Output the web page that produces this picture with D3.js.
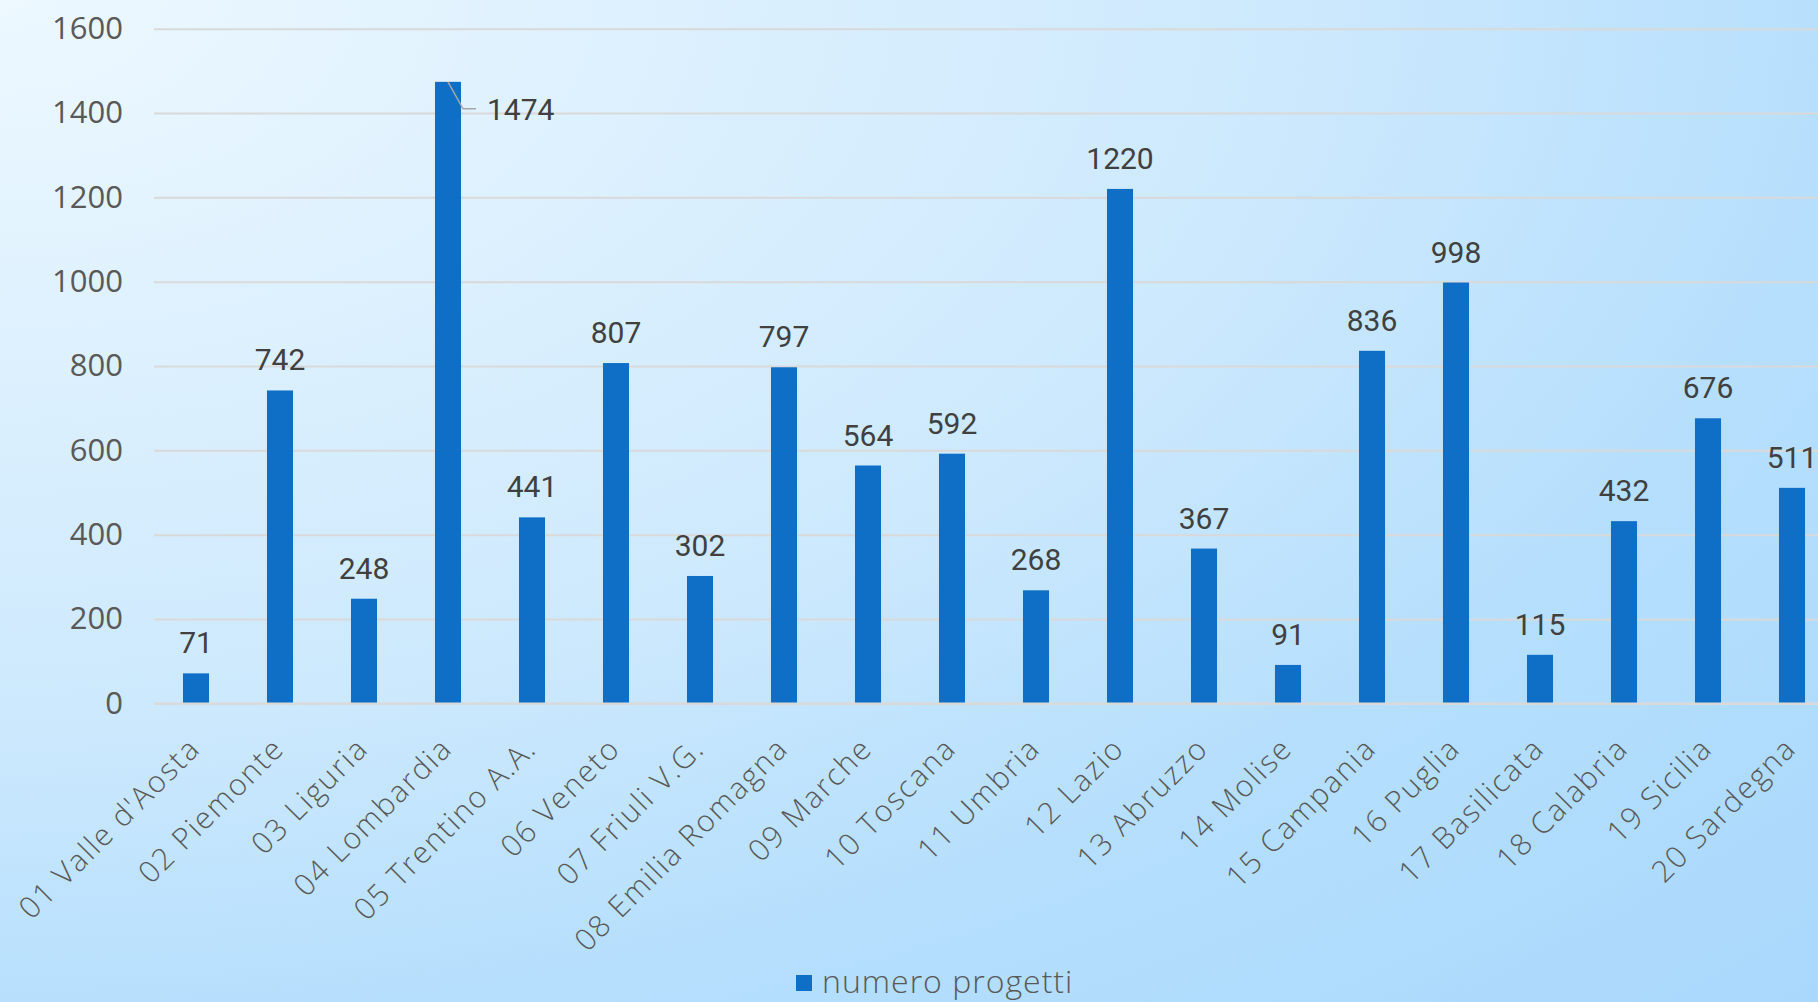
<!DOCTYPE html>
<html><head><meta charset="utf-8">
<script src="https://cdn.jsdelivr.net/npm/d3@7"></script>
<style>html,body{margin:0;padding:0;overflow:hidden;}svg{display:block;}</style>
</head><body>
<svg id="chart" width="1818" height="1002"></svg>
<script>
const categories = ["01 Valle d'Aosta","02 Piemonte","03 Liguria","04 Lombardia","05 Trentino A.A.","06 Veneto","07 Friuli V.G.","08 Emilia Romagna","09 Marche","10 Toscana","11 Umbria","12 Lazio","13 Abruzzo","14 Molise","15 Campania","16 Puglia","17 Basilicata","18 Calabria","19 Sicilia","20 Sardegna"];
const values = [71,742,248,1474,441,807,302,797,564,592,268,1220,367,91,836,998,115,432,676,511];
const yTicks = [0,200,400,600,800,1000,1200,1400,1600];
const seriesName = "numero progetti";

const W = 1818, H = 1002;
const svg = d3.select("#chart");
const defs = svg.append("defs");
const grad = defs.append("radialGradient").attr("id","bg")
  .attr("cx",0).attr("cy",0).attr("fx",0).attr("fy",0).attr("r",1.414);
[[0,"#edf8ff"],[0.5,"#cde9fd"],[0.72,"#b6dffd"],[1,"#a9d8fc"]].forEach(([o,c])=>
  grad.append("stop").attr("offset",o).attr("stop-color",c));
svg.append("rect").attr("width",W).attr("height",H).attr("fill","url(#bg)");

const left = 154, right = 1834, y0 = 703.3, yTop = 28.7;
const x = d3.scaleBand().domain(categories).range([left,right]).paddingInner(0.69).paddingOuter(0.345);
const y = d3.scaleLinear().domain([0,1600]).range([y0,yTop]);

// y axis with gridlines
const gy = svg.append("g").attr("transform",`translate(${left},0)`)
  .call(d3.axisLeft(y).tickValues(yTicks).tickSize(-(right-left)).tickPadding(31).tickFormat(d3.format("d")));
gy.select(".domain").remove();
gy.selectAll(".tick line").attr("stroke","#d9d9d9").attr("stroke-width",2);
gy.selectAll(".tick text").attr("fill","#595959").style("font-family","'Open Sans', sans-serif").style("font-size","31px");

// bars
svg.append("g").selectAll("rect").data(values).join("rect")
  .attr("x",(d,i)=>x(categories[i])).attr("width",x.bandwidth())
  .attr("y",d=>y(d)).attr("height",d=>y0-y(d)).attr("fill","#0f6fc6");

// x axis
const gx = svg.append("g").attr("transform",`translate(0,${y0})`)
  .call(d3.axisBottom(x).tickSize(0));
gx.select(".domain").attr("stroke","#d9d9d9").attr("stroke-width",2.5);
gx.selectAll(".tick text")
  .attr("x",0).attr("y",0).attr("dy",0)
  .attr("transform","translate(6,47) rotate(-45)")
  .attr("text-anchor","end")
  .attr("fill","#595959").style("font-family","'Open Sans', sans-serif").style("font-weight","300")
  .style("font-size","30px").style("letter-spacing","1.8px");

// data labels
const maxV = d3.max(values);
const lab = svg.append("g").style("font-family","Roboto, sans-serif").style("font-size","30px").attr("fill","#404040");
values.forEach((v,i)=>{
  const cx = x(categories[i]) + x.bandwidth()/2;
  if (v === maxV) {
    const ly = y(v) + 27;
    lab.append("path").attr("d",`M${cx},${y(v)} L${cx+15},${ly} L${cx+28},${ly}`)
      .attr("fill","none").attr("stroke","#a6a6a6").attr("stroke-width",1.5);
    lab.append("text").attr("x",cx+39).attr("y",ly+11).text(v);
  } else {
    lab.append("text").attr("x",cx).attr("y",y(v)-20).attr("text-anchor","middle").text(v);
  }
});

// legend
const lg = svg.append("g");
lg.append("rect").attr("x",796).attr("y",975).attr("width",16).attr("height",16).attr("fill","#0f6fc6");
lg.append("text").attr("x",822).attr("y",993).attr("fill","#595959")
  .style("font-family","'Open Sans', sans-serif").style("font-weight","300")
  .style("font-size","32px").style("letter-spacing","1px").text(seriesName);
</script>
</body></html>
